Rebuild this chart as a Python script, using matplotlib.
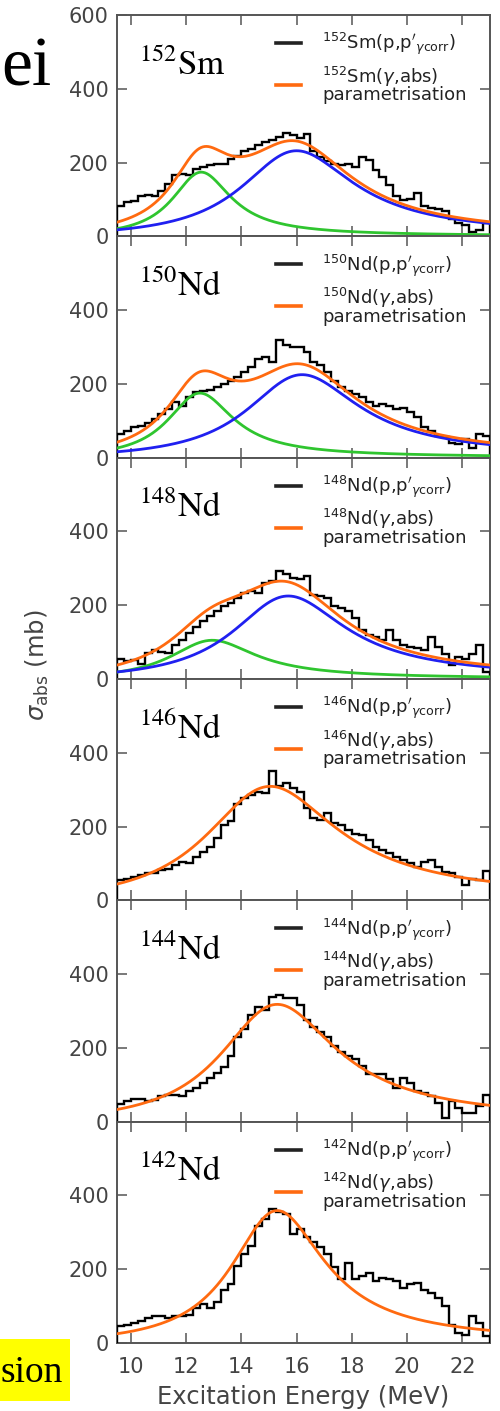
import numpy as np
import matplotlib
matplotlib.use("Agg")
import matplotlib.pyplot as plt
from matplotlib.patches import Rectangle
from matplotlib.lines import Line2D

# ---------------------------------------------------------------- data
MASS = [152, 150, 148, 146, 144, 142]
ELEMENT = ["Sm", "Nd", "Nd", "Nd", "Nd", "Nd"]

# histogram range (MeV), 0.25 MeV bins
E_LOW, E_HIGH = 9.5, 23.0

# photoabsorption cross sections from (p,p') per bin (mb)
SM152_XS = [83, 92, 96, 108, 112, 110, 124, 142, 165, 170, 165, 183, 188, 193,
            195, 197, 209, 218, 231, 238, 248, 257, 261, 268, 280, 275, 266, 277,
            230, 216, 204, 195, 193, 197, 188, 216, 206, 179, 161, 139, 110, 99,
            101, 117, 83, 78, 73, 69, 48, 37, 32, 11, 18, 37]
ND150_XS = [64, 72, 82, 86, 95, 105, 118, 132, 150, 140, 164, 177, 182, 184,
            191, 200, 209, 218, 232, 245, 268, 273, 259, 318, 305, 300, 300, 286,
            259, 250, 232, 209, 191, 182, 173, 164, 150, 141, 145, 141, 132, 134,
            123, 109, 82, 73, 59, 55, 41, 36, 50, 27, 64, 60]
ND148_XS = [55, 50, 52, 41, 71, 78, 73, 71, 92, 105, 124, 142, 156, 170,
            183, 197, 206, 220, 234, 239, 234, 261, 266, 294, 284, 275, 271, 280,
            229, 225, 220, 197, 193, 183, 165, 133, 119, 115, 106, 133, 106, 92,
            87, 83, 78, 115, 87, 69, 37, 60, 55, 69, 92, 20]
ND146_XS = [55, 59, 64, 68, 73, 75, 82, 86, 95, 105, 100, 118, 132, 145,
            168, 205, 214, 262, 277, 286, 295, 291, 350, 309, 318, 305, 295, 250,
            223, 218, 236, 209, 205, 191, 180, 177, 164, 145, 136, 127, 118, 109,
            100, 91, 105, 109, 91, 77, 73, 64, 41, 59, 55, 80]
ND144_XS = [49, 55, 61, 61, 55, 60, 69, 73, 73, 69, 83, 92, 106, 119,
            133, 147, 179, 230, 252, 289, 312, 303, 339, 344, 335, 335, 317, 275,
            257, 243, 229, 206, 188, 179, 170, 151, 128, 128, 128, 115, 92, 119,
            106, 83, 78, 69, 50, 9, 55, 37, 23, 23, 43, 73]
ND142_XS = [45, 50, 55, 59, 68, 73, 73, 68, 73, 73, 77, 95, 105, 95,
            110, 145, 160, 209, 241, 264, 318, 336, 364, 355, 350, 295, 309, 286,
            273, 259, 241, 205, 173, 218, 173, 182, 191, 168, 177, 173, 168, 150,
            159, 164, 145, 136, 123, 100, 50, 27, 23, 73, 55, 18]

# Lorentzian GDR parametrisation: (E0 [MeV], Gamma [MeV], sigma0 [mb])
SM152_GDR = [(12.55, 2.6, 174), (16.0, 5.0, 232)]
ND150_GDR = [(12.5, 2.9, 175), (16.2, 5.0, 225)]
ND148_GDR = [(12.95, 3.8, 105), (15.7, 5.0, 225)]
ND146_GDR = [(15.05, 5.85, 309)]
ND144_GDR = [(15.3, 5.15, 318)]
ND142_GDR = [(15.3, 4.15, 359)]

XS = [SM152_XS, ND150_XS, ND148_XS, ND146_XS, ND144_XS, ND142_XS]
GDR = [SM152_GDR, ND150_GDR, ND148_GDR, ND146_GDR, ND144_GDR, ND142_GDR]

X_TICKS = [10, 12, 14, 16, 18, 20, 22]
Y_TICKS = [0, 200, 400, 600]

# ---------------------------------------------------------------- style
C_DATA = "black"
C_SUM = "#ff6a10"
C_LOW = "#2fc52f"
C_HIGH = "#2020f0"
C_AXIS = "#555555"
C_TEXT = "#444444"

plt.rcParams["mathtext.fontset"] = "dejavusans"


def lorentzian(e, e0, gamma, s0):
    return s0 / (1.0 + ((e ** 2 - e0 ** 2) / (e * gamma)) ** 2)


fig = plt.figure(figsize=(5.0, 14.11), dpi=100)
axes = fig.subplots(6, 1, sharex=True)
fig.subplots_adjust(left=0.234, right=0.98, top=1 - 15 / 1411,
                    bottom=1 - 1343 / 1411, hspace=0)

edges = np.linspace(E_LOW, E_HIGH, len(SM152_XS) + 1)
e_fine = np.linspace(E_LOW, E_HIGH, 600)

for i, ax in enumerate(axes):
    A, el = MASS[i], ELEMENT[i]
    ax.stairs(XS[i], edges, color=C_DATA, lw=1.7, zorder=3)

    comps = GDR[i]
    total = np.zeros_like(e_fine)
    for k, (e0, g, s0) in enumerate(comps):
        y = lorentzian(e_fine, e0, g, s0)
        total += y
        if len(comps) > 1:
            ax.plot(e_fine, y, color=C_LOW if k == 0 else C_HIGH, lw=2.0,
                    zorder=4)
    ax.plot(e_fine, total, color=C_SUM, lw=2.0, zorder=5)

    ax.set_xlim(E_LOW, E_HIGH)
    ax.set_ylim(0, 600)
    ax.set_yticks(Y_TICKS)
    if i == 0:
        ax.set_yticklabels([str(t) for t in Y_TICKS])
    else:
        ax.set_yticklabels([str(t) for t in Y_TICKS[:-1]] + [""])
    ax.set_xticks(X_TICKS)
    ax.tick_params(direction="in", top=True, right=True, length=7,
                   width=1.1, color=C_AXIS, labelcolor=C_TEXT,
                   labelsize=15)
    ax.tick_params(axis="y", pad=6)
    ax.tick_params(axis="x", pad=10)
    for sp in ax.spines.values():
        sp.set_color(C_AXIS)
        sp.set_linewidth(1.4)

    ax.text(0.06, 0.73, r"$^{%d}\mathrm{%s}$" % (A, el),
            transform=ax.transAxes, fontsize=25, math_fontfamily="stix",
            color="black", ha="left", va="baseline")

    handles = [Line2D([], [], color="#222222", lw=2.6),
               Line2D([], [], color=C_SUM, lw=2.6)]
    labels = [r"$^{%d}$%s(p,$\mathrm{p}'_{\gamma\mathrm{corr}}$)" % (A, el),
              r"$^{%d}$%s($\gamma$,abs)" % (A, el) + "\nparametrisation"]
    leg = ax.legend(handles, labels, loc="upper left",
                    bbox_to_anchor=(0.425, 0.928), frameon=False, fontsize=13,
                    handlelength=1.4, handletextpad=1.2, borderpad=0,
                    borderaxespad=0, labelspacing=0.4, labelcolor="#222222")
    for t in leg.get_texts():
        t.set_linespacing(0.85)

axes[-1].set_xlabel("Excitation Energy (MeV)", fontsize=17.5, color=C_TEXT,
                    labelpad=6)
fig.text(0.074, 1 - 665 / 1411, r"$\sigma_{\rm abs}$ (mb)", rotation=90,
         fontsize=17.5, color=C_TEXT, ha="center", va="center")

# slide fragments around the figure
fig.text(52 / 500, 1 - 85 / 1411, "ei", fontsize=50, family="Liberation Serif",
         ha="right", va="baseline", color="black")
fig.patches.append(Rectangle((0, 1 - 1401 / 1411), 70 / 500, 62 / 1411,
                             transform=fig.transFigure, facecolor="#ffff00",
                             edgecolor="none", zorder=0))
fig.text(63 / 500, 1 - 1382 / 1411, "sion", fontsize=27,
         family="Liberation Serif", ha="right", va="baseline", color="black")

fig.savefig("out.png", dpi=100)
